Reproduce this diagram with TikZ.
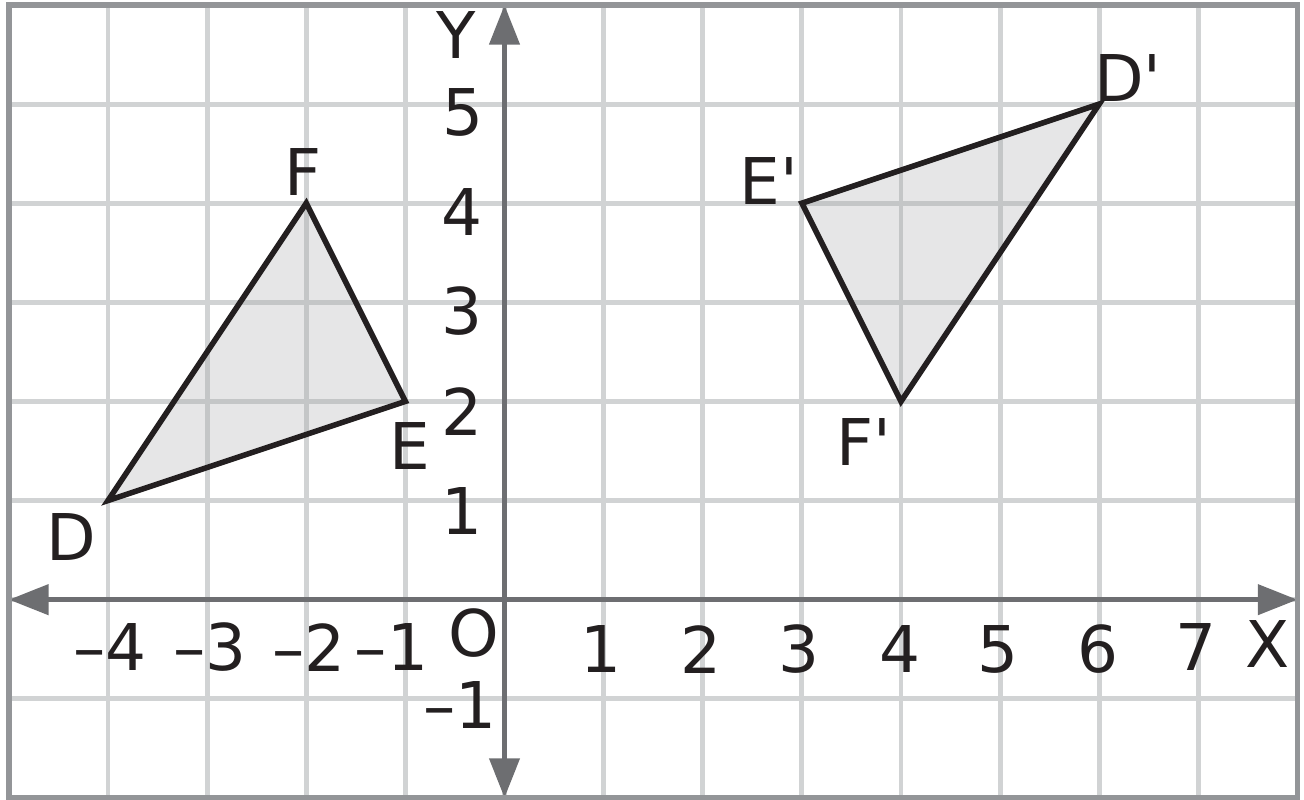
\documentclass[tikz,border=0pt]{standalone}
\usepackage{fontspec}
\setmainfont{DejaVu Sans}
\usepackage{tikz}
\usetikzlibrary{arrows.meta}
\definecolor{gdgrid}{HTML}{D1D3D4}
\definecolor{gdframe}{HTML}{939598}
\definecolor{gdaxis}{HTML}{6D6E71}
\definecolor{gdink}{HTML}{231F20}
\definecolor{gdfill}{HTML}{A5A6A8}

\begin{document}
\begin{tikzpicture}[
  gridline/.style={draw=gdgrid, line width=1.4pt},
  frame/.style={draw=gdframe, line width=1.6pt},
  axis/.style={draw=gdaxis, line width=1.5pt,
               {Triangle[length=4mm,width=3mm]}-{Triangle[length=4mm,width=3mm]}},
  tri/.style={draw=gdink, line width=1.6pt, fill=gdfill, fill opacity=0.28},
  lbl/.style={inner sep=0pt, text=gdink, font=\fontsize{18.5}{22}\selectfont}
]
\useasboundingbox (-5.09,-2.013) rectangle (8.066,6.05);

% Grid
\draw[gridline] (-5,-2) grid (8,6);

% Vertices
\coordinate (D) at (-4,1);
\coordinate (E) at (-1,2);
\coordinate (F) at (-2,4);
\coordinate (Dp) at (6,5);
\coordinate (Ep) at (3,4);
\coordinate (Fp) at (4,2);

% Triangles
\draw[tri] (D) -- (E) -- (F) -- cycle;
\draw[tri] (Dp) -- (Ep) -- (Fp) -- cycle;

% Axes
\coordinate (xlo) at (-5,0);
\coordinate (xhi) at (8,0);
\coordinate (ylo) at (0,-2);
\coordinate (yhi) at (0,6);
\draw[axis] (xlo) -- (xhi);
\draw[axis] (ylo) -- (yhi);

% Frame
\draw[frame] (-5,-2) rectangle (8,6);

% Axis names
\node[lbl] (labX) at (7.70,-0.45) {X};
\node[lbl] (labY) at (-0.49,5.70) {Y};
\node[lbl] (labO) at (-0.31,-0.34) {O};

% X ticks
\node[lbl] (xm4) at (-3.98,-0.48) {–4};
\node[lbl] (xm3) at (-2.97,-0.48) {–3};
\node[lbl] (xm2) at (-1.97,-0.48) {–2};
\node[lbl] (xm1) at (-1.14,-0.48) {–1};
\node[lbl] (x1) at (0.97,-0.50) {1};
\node[lbl] (x2) at (1.98,-0.50) {2};
\node[lbl] (x3) at (2.97,-0.50) {3};
\node[lbl] (x4) at (3.99,-0.50) {4};
\node[lbl] (x5) at (4.98,-0.50) {5};
\node[lbl] (x6) at (5.99,-0.50) {6};
\node[lbl] (x7) at (6.98,-0.48) {7};

% Y ticks
\node[lbl] (y5) at (-0.42,4.92) {5};
\node[lbl] (y4) at (-0.43,3.91) {4};
\node[lbl] (y3) at (-0.43,2.91) {3};
\node[lbl] (y2) at (-0.43,1.90) {2};
\node[lbl] (y1) at (-0.43,0.89) {1};
\node[lbl] (ym1) at (-0.45,-1.06) {–1};

% Vertex names
\node[lbl] (labD) at (-4.37,0.63) {D};
\node[lbl] (labE) at (-0.95,1.55) {E};
\node[lbl] (labF) at (-2.03,4.31) {F};
\node[lbl] (labDp) at (6.29,5.26) {D\textquotesingle};
\node[lbl] (labEp) at (2.67,4.22) {E\textquotesingle};
\node[lbl] (labFp) at (3.63,1.59) {F\textquotesingle};
\end{tikzpicture}
\end{document}
